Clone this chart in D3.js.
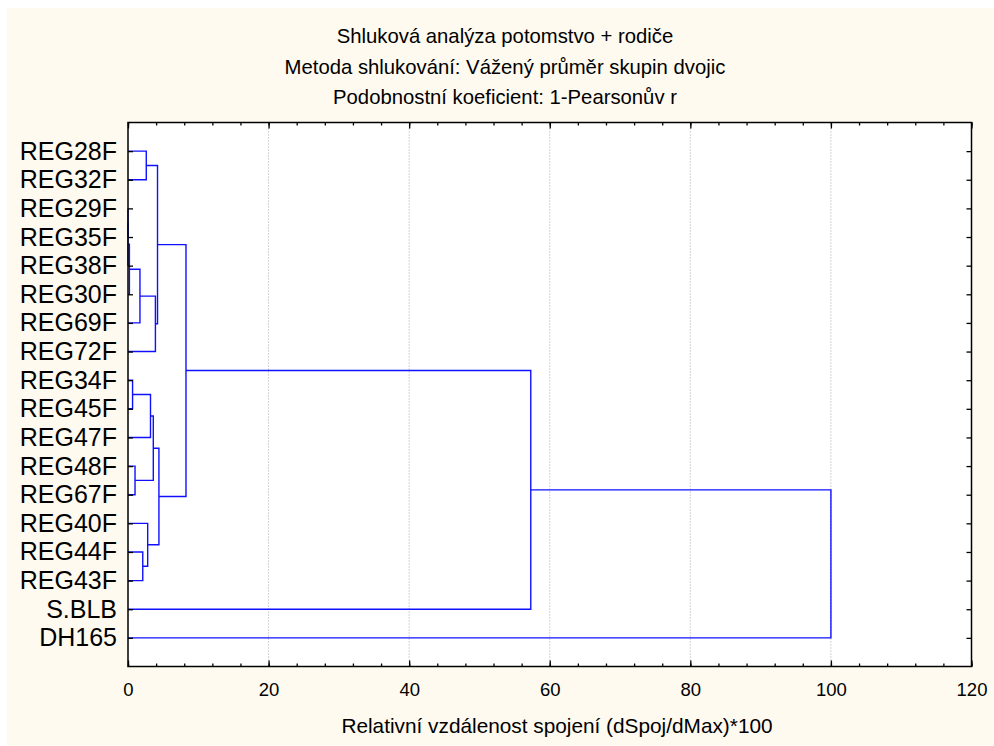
<!DOCTYPE html>
<html>
<head>
<meta charset="utf-8">
<script src="https://cdn.jsdelivr.net/npm/d3@7"></script>
<style>
  html, body { margin: 0; padding: 0; background: #ffffff; }
  svg { display: block; }
  text { font-family: "Liberation Sans", Arial, sans-serif; fill: #000; }
</style>
</head>
<body>
<svg id="chart" width="994" height="746"></svg>
<script>
// ---------- data ----------
const titleLines = [
  "Shluková analýza potomstvo + rodiče",
  "Metoda shlukování: Vážený průměr skupin dvojic",
  "Podobnostní koeficient: 1-Pearsonův r"
];
const xAxisTitle = "Relativní vzdálenost spojení (dSpoj/dMax)*100";
const leafNames = ["REG28F","REG32F","REG29F","REG35F","REG38F","REG30F","REG69F","REG72F",
  "REG34F","REG45F","REG47F","REG48F","REG67F","REG40F","REG44F","REG43F","S.BLB","DH165"];
// merge steps: index < 18 refers to a leaf, index >= 18 refers to merge (index - 18)
const mergeA    = [2, 18, 19, 20, 21, 0, 23, 8, 25, 11, 26, 14, 13, 28, 24, 32, 33];
const mergeB    = [3,  4,  5,  6,  7, 1, 22, 9, 10, 12, 27, 15, 29, 30, 31, 16, 17];
const mergeDist = [0,  0, 0.2, 1.7, 3.9, 2.6, 4.2, 0.65, 3.2, 1.0, 3.6, 2.1, 2.8, 4.4, 8.25, 57.3, 100];
const xMajorTicks = [0, 20, 40, 60, 80, 100, 120];
const xMinorTicks = d3.range(0, 121, 4);

// ---------- layout ----------
const W = 994, H = 746;
const plot = { left: 128, right: 971.5, top: 122.5, bottom: 666.5 };
const svg = d3.select("#chart");

svg.append("rect").attr("x", 7).attr("y", 8).attr("width", W - 7).attr("height", H - 8)
  .attr("fill", "#fefaef");
svg.append("rect").attr("x", plot.left).attr("y", plot.top)
  .attr("width", plot.right - plot.left).attr("height", plot.bottom - plot.top)
  .attr("fill", "#ffffff");

const x = d3.scaleLinear().domain([0, 120]).range([plot.left, plot.right]);
const y = d3.scalePoint().domain(leafNames).range([plot.top, plot.bottom]).padding(1);

// grid
svg.append("g").selectAll("line").data(xMajorTicks.filter(v => v > 0 && v < 120)).join("line")
  .attr("x1", d => x(d)).attr("x2", d => x(d))
  .attr("y1", plot.top).attr("y2", plot.bottom)
  .attr("stroke", "#a8a8a8").attr("stroke-width", 1).attr("stroke-dasharray", "1,2");

// ---------- tree ----------
const nodeY = leafNames.map(l => y(l));
const nodeH = leafNames.map(() => 0);
const paths = [];
mergeA.forEach((a, i) => {
  const b = mergeB[i], h = mergeDist[i];
  const ya = nodeY[a], yb = nodeY[b];
  paths.push(`M${x(nodeH[a])},${ya}H${x(h)}V${yb}H${x(nodeH[b])}`);
  nodeY.push((ya + yb) / 2);
  nodeH.push(h);
});
svg.append("g").selectAll("path").data(paths).join("path")
  .attr("d", d => d).attr("fill", "none")
  .attr("stroke", "#1010ff").attr("stroke-width", 1.4);

// ---------- axes ----------
function styleAxis(g) {
  g.select(".domain").remove();
  g.selectAll(".tick line").attr("stroke", "#000").attr("stroke-width", 1.3);
}
svg.append("g").attr("transform", `translate(0,${plot.bottom})`)
  .call(d3.axisBottom(x).tickValues(xMinorTicks).tickSize(-3).tickFormat(""))
  .call(styleAxis);
svg.append("g").attr("transform", `translate(0,${plot.top})`)
  .call(d3.axisTop(x).tickValues(xMinorTicks).tickSize(-3).tickFormat(""))
  .call(styleAxis);
svg.append("g").attr("transform", `translate(0,${plot.top})`)
  .call(d3.axisTop(x).tickValues(xMajorTicks).tickSize(-6).tickFormat(""))
  .call(styleAxis);
const xb = svg.append("g").attr("transform", `translate(0,${plot.bottom})`)
  .call(d3.axisBottom(x).tickValues(xMajorTicks).tickSize(-6).tickPadding(16).tickFormat(d3.format("d")))
  .call(styleAxis);
xb.selectAll(".tick text").attr("font-size", 18.5).attr("font-family", "Liberation Sans, Arial, sans-serif").attr("fill", "#000");

const yl = svg.append("g").attr("transform", `translate(${plot.left},0)`)
  .call(d3.axisLeft(y).tickSize(-5).tickPadding(11))
  .call(styleAxis);
yl.selectAll(".tick text").attr("font-size", 25).attr("font-family", "Liberation Sans, Arial, sans-serif").attr("fill", "#000");
svg.append("g").attr("transform", `translate(${plot.right},0)`)
  .call(d3.axisRight(y).tickSize(-5).tickFormat(""))
  .call(styleAxis);

// frame
svg.append("rect").attr("x", plot.left).attr("y", plot.top)
  .attr("width", plot.right - plot.left).attr("height", plot.bottom - plot.top)
  .attr("fill", "none").attr("stroke", "#000").attr("stroke-width", 1.5);

// ---------- titles ----------
svg.append("g").selectAll("text").data(titleLines).join("text")
  .attr("x", 505).attr("y", (d, i) => 43 + i * 30.5)
  .attr("text-anchor", "middle").attr("font-size", 20.3).text(d => d);
svg.append("text").attr("x", 557).attr("y", 733)
  .attr("text-anchor", "middle").attr("font-size", 20.8).text(xAxisTitle);
</script>
</body>
</html>
